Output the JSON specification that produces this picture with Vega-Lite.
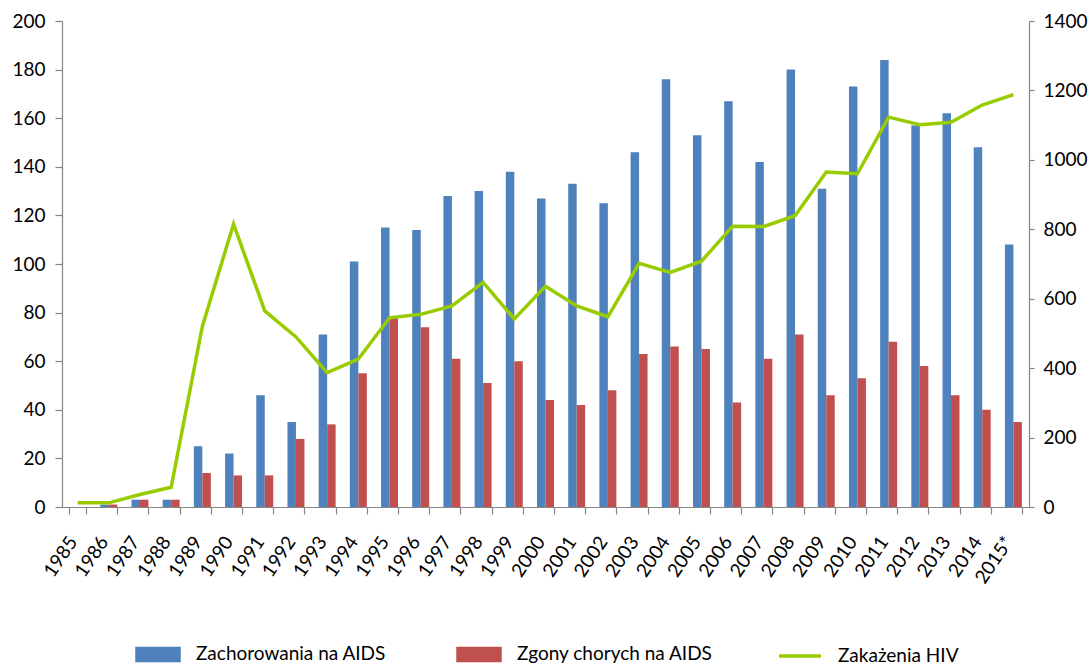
{
  "$schema": "https://vega.github.io/schema/vega-lite/v6.json",
  "width": 967,
  "height": 486,
  "autosize": {"type": "none"},
  "padding": {"left": 62, "top": 21, "right": 60, "bottom": 161},
  "background": "white",
  "config": {
    "view": {"stroke": null},
    "font": "Lato",
    "axis": {
      "domainColor": "#868686",
      "tickColor": "#868686",
      "domainWidth": 1.2,
      "tickWidth": 1.2,
      "labelColor": "#000000",
      "labelFont": "Lato",
      "labelFontSize": 19,
      "grid": false,
      "title": null
    }
  },
  "data": {
    "values": [
      {"rok": "1985", "Zachorowania na AIDS": 0, "Zgony chorych na AIDS": 0, "Zakażenia HIV": 12},
      {"rok": "1986", "Zachorowania na AIDS": 1, "Zgony chorych na AIDS": 1, "Zakażenia HIV": 12},
      {"rok": "1987", "Zachorowania na AIDS": 3, "Zgony chorych na AIDS": 3, "Zakażenia HIV": 36},
      {"rok": "1988", "Zachorowania na AIDS": 3, "Zgony chorych na AIDS": 3, "Zakażenia HIV": 57},
      {"rok": "1989", "Zachorowania na AIDS": 25, "Zgony chorych na AIDS": 14, "Zakażenia HIV": 521},
      {"rok": "1990", "Zachorowania na AIDS": 22, "Zgony chorych na AIDS": 13, "Zakażenia HIV": 815},
      {"rok": "1991", "Zachorowania na AIDS": 46, "Zgony chorych na AIDS": 13, "Zakażenia HIV": 565},
      {"rok": "1992", "Zachorowania na AIDS": 35, "Zgony chorych na AIDS": 28, "Zakażenia HIV": 490},
      {"rok": "1993", "Zachorowania na AIDS": 71, "Zgony chorych na AIDS": 34, "Zakażenia HIV": 387},
      {"rok": "1994", "Zachorowania na AIDS": 101, "Zgony chorych na AIDS": 55, "Zakażenia HIV": 426},
      {"rok": "1995", "Zachorowania na AIDS": 115, "Zgony chorych na AIDS": 78, "Zakażenia HIV": 545},
      {"rok": "1996", "Zachorowania na AIDS": 114, "Zgony chorych na AIDS": 74, "Zakażenia HIV": 555},
      {"rok": "1997", "Zachorowania na AIDS": 128, "Zgony chorych na AIDS": 61, "Zakażenia HIV": 579},
      {"rok": "1998", "Zachorowania na AIDS": 130, "Zgony chorych na AIDS": 51, "Zakażenia HIV": 647},
      {"rok": "1999", "Zachorowania na AIDS": 138, "Zgony chorych na AIDS": 60, "Zakażenia HIV": 542},
      {"rok": "2000", "Zachorowania na AIDS": 127, "Zgony chorych na AIDS": 44, "Zakażenia HIV": 636},
      {"rok": "2001", "Zachorowania na AIDS": 133, "Zgony chorych na AIDS": 42, "Zakażenia HIV": 579},
      {"rok": "2002", "Zachorowania na AIDS": 125, "Zgony chorych na AIDS": 48, "Zakażenia HIV": 548},
      {"rok": "2003", "Zachorowania na AIDS": 146, "Zgony chorych na AIDS": 63, "Zakażenia HIV": 702},
      {"rok": "2004", "Zachorowania na AIDS": 176, "Zgony chorych na AIDS": 66, "Zakażenia HIV": 676},
      {"rok": "2005", "Zachorowania na AIDS": 153, "Zgony chorych na AIDS": 65, "Zakażenia HIV": 708},
      {"rok": "2006", "Zachorowania na AIDS": 167, "Zgony chorych na AIDS": 43, "Zakażenia HIV": 809},
      {"rok": "2007", "Zachorowania na AIDS": 142, "Zgony chorych na AIDS": 61, "Zakażenia HIV": 808},
      {"rok": "2008", "Zachorowania na AIDS": 180, "Zgony chorych na AIDS": 71, "Zakażenia HIV": 839},
      {"rok": "2009", "Zachorowania na AIDS": 131, "Zgony chorych na AIDS": 46, "Zakażenia HIV": 965},
      {"rok": "2010", "Zachorowania na AIDS": 173, "Zgony chorych na AIDS": 53, "Zakażenia HIV": 960},
      {"rok": "2011", "Zachorowania na AIDS": 184, "Zgony chorych na AIDS": 68, "Zakażenia HIV": 1123},
      {"rok": "2012", "Zachorowania na AIDS": 157, "Zgony chorych na AIDS": 58, "Zakażenia HIV": 1101},
      {"rok": "2013", "Zachorowania na AIDS": 162, "Zgony chorych na AIDS": 46, "Zakażenia HIV": 1108},
      {"rok": "2014", "Zachorowania na AIDS": 148, "Zgony chorych na AIDS": 40, "Zakażenia HIV": 1158},
      {"rok": "2015*", "Zachorowania na AIDS": 108, "Zgony chorych na AIDS": 35, "Zakażenia HIV": 1188}
    ]
  },
  "layer": [
    {
      "transform": [
        {"fold": ["Zachorowania na AIDS", "Zgony chorych na AIDS"], "as": ["seria", "wartosc"]}
      ],
      "mark": {"type": "bar"},
      "encoding": {
        "x": {
          "field": "rok",
          "type": "ordinal",
          "sort": null,
          "scale": {"paddingInner": 0.456, "paddingOuter": 0.228},
          "axis": {
            "tickBand": "extent",
            "tickSize": 7,
            "labelAngle": -56,
            "labelAlign": "right",
            "labelBaseline": "middle",
            "labelPadding": 24,
            "labelOffset": -5
          }
        },
        "xOffset": {
          "field": "seria",
          "type": "nominal",
          "sort": ["Zachorowania na AIDS", "Zgony chorych na AIDS"],
          "scale": {"paddingInner": 0, "paddingOuter": 0}
        },
        "y": {
          "field": "wartosc",
          "type": "quantitative",
          "scale": {"domain": [0, 200], "nice": false},
          "axis": {
            "orient": "left",
            "values": [0, 20, 40, 60, 80, 100, 120, 140, 160, 180, 200],
            "tickSize": 7,
            "labelPadding": 10
          }
        },
        "color": {
          "field": "seria",
          "type": "nominal",
          "scale": {
            "domain": ["Zachorowania na AIDS", "Zgony chorych na AIDS", "Zakażenia HIV"],
            "range": ["#4F81BD", "#C0504D", "#99CC00"]
          },
          "legend": {
            "orient": "none",
            "legendX": 73,
            "legendY": 610,
            "direction": "horizontal",
            "columns": 3,
            "gridAlign": "all",
            "columnPadding": 58,
            "symbolSize": 1764,
            "symbolStrokeWidth": 3.5,
            "labelOffset": 15,
            "labelLimit": 0,
            "labelFont": "Lato",
            "labelFontSize": 19,
            "labelColor": "#000000",
            "title": null,
            "padding": 0,
            "encode": {
              "symbols": {
                "update": {
                  "shape": {"signal": "datum.value === 'Zakażenia HIV' ? 'stroke' : 'M-1,-0.286H1V0.286H-1Z'"},
                  "fill": {"signal": "datum.value === 'Zakażenia HIV' ? 'transparent' : scale('color', datum.value)"},
                  "stroke": {"signal": "datum.value === 'Zakażenia HIV' ? scale('color', datum.value) : 'transparent'"},
                  "strokeWidth": {"value": 3.5},
                  "opacity": {"value": 1}
                }
              }
            }
          }
        }
      }
    },
    {
      "mark": {"type": "line", "strokeWidth": 3.5, "strokeJoin": "miter"},
      "encoding": {
        "x": {"field": "rok", "type": "ordinal", "sort": null},
        "y": {
          "field": "Zakażenia HIV",
          "type": "quantitative",
          "scale": {"domain": [0, 1400], "nice": false},
          "axis": {
            "orient": "right",
            "format": "d",
            "values": [0, 200, 400, 600, 800, 1000, 1200, 1400],
            "tickSize": 5,
            "labelPadding": 9
          }
        },
        "color": {"datum": "Zakażenia HIV"}
      }
    }
  ],
  "resolve": {"scale": {"y": "independent"}}
}
